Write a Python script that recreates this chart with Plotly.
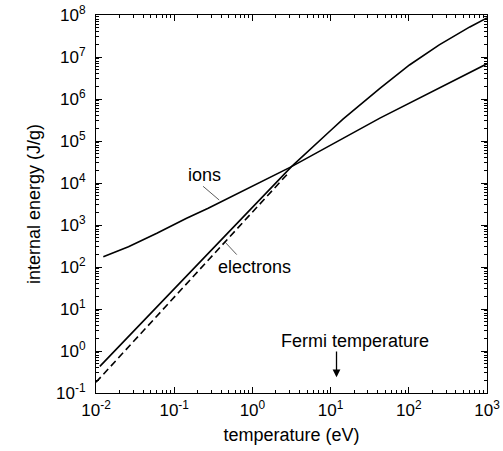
import math
import plotly.graph_objects as go

# ---- data ----
ion_T = [0.0124, 0.026, 0.06, 0.144, 0.272, 3.16, 42.7, 1000]
ion_E = [176, 304, 634, 1445, 2500, 2.45e4, 3.5e5, 6.9e6]

elec_T = [0.0112, 1.0, 3.16, 10, 14.4, 42.7, 102, 245, 603, 1000]
elec_E = [0.43, 2700, 2.45e4, 1.78e5, 3.3e5, 1.78e6, 6.46e6, 1.95e7, 5.2e7, 8.5e7]

elec_ideal_T = [0.01, 2.86]
elec_ideal_E = [0.18, 1.7e4]

fermi_T = 11.9

x_exps = [-2, -1, 0, 1, 2, 3]
y_exps = [-1, 0, 1, 2, 3, 4, 5, 6, 7, 8]

FONT = "Liberation Sans, Arial, Helvetica, sans-serif"


def pow_labels(exps):
    return [f"10<sup>{e}</sup>" for e in exps]


def minor_vals(exps):
    return [m * 10.0 ** e for e in exps[:-1] for m in range(2, 10)]


fig = go.Figure()
fig.add_trace(go.Scatter(x=ion_T, y=ion_E, mode="lines",
                         line=dict(color="black", width=1.6), showlegend=False))
fig.add_trace(go.Scatter(x=elec_T, y=elec_E, mode="lines",
                         line=dict(color="black", width=1.6), showlegend=False))
fig.add_trace(go.Scatter(x=elec_ideal_T, y=elec_ideal_E, mode="lines",
                         line=dict(color="black", width=1.6, dash="7px,4px"),
                         showlegend=False))

ann = [
    # labels
    dict(x=-0.608, y=4.19, text="ions", showarrow=False),
    dict(x=0.031, y=2.007, text="electrons", showarrow=False),
    dict(x=1.318, y=0.245, text="Fermi temperature", showarrow=False),
    # leader lines
    dict(x=-0.425, y=3.595, text="", showarrow=True, arrowhead=0, arrowwidth=0.8,
         arrowcolor="#333333", ax=-17.6, ay=-15),
    dict(x=-0.353, y=2.60, text="", showarrow=True, arrowhead=0, arrowwidth=0.8,
         arrowcolor="#333333", ax=13.3, ay=14.3),
    # Fermi arrow
    dict(x=math.log10(fermi_T), y=-0.626, text="", showarrow=True, arrowhead=2,
         arrowsize=1.2, arrowwidth=1.3, arrowcolor="black", ax=0, ay=-27.3),
]
for a in ann:
    a["font"] = dict(family=FONT, size=18, color="black")

fig.update_layout(
    width=503, height=451,
    margin=dict(l=96, r=16, t=15, b=58, autoexpand=False),
    paper_bgcolor="white", plot_bgcolor="white",
    font=dict(family=FONT, size=17, color="black"),
    annotations=ann,
)
axis_common = dict(
    type="log", showgrid=False, zeroline=False, automargin=False,
    showline=True, linecolor="black", linewidth=1, mirror="ticks",
    ticks="inside", ticklen=6, tickcolor="black", tickwidth=1,
    ticklabeloverflow="allow",
    tickfont=dict(family=FONT, size=17, color="black"),
)
fig.update_xaxes(range=[-2, 3], tickmode="array",
                 tickvals=[10.0 ** e for e in x_exps], ticktext=pow_labels(x_exps),
                 minor=dict(ticks="inside", ticklen=3, tickcolor="black",
                            tickmode="array", tickvals=minor_vals(x_exps), showgrid=False),
                 ticklabelstandoff=2,
                 title=dict(text="temperature (eV)", font=dict(family=FONT, size=18),
                            standoff=8), **axis_common)
fig.update_yaxes(range=[-1, 8], tickmode="array",
                 tickvals=[10.0 ** e for e in y_exps], ticktext=pow_labels(y_exps),
                 minor=dict(ticks="inside", ticklen=3, tickcolor="black",
                            tickmode="array", tickvals=minor_vals(y_exps), showgrid=False),
                 ticklabelstandoff=6,
                 title=dict(text="internal energy (J/g)", font=dict(family=FONT, size=18),
                            standoff=10), **axis_common)

# remove the browser's default 8px page margin so the figure sits at the window origin
fig.write_html("out.html", config={"displayModeBar": False},
               post_script="document.body.style.margin='0';")
